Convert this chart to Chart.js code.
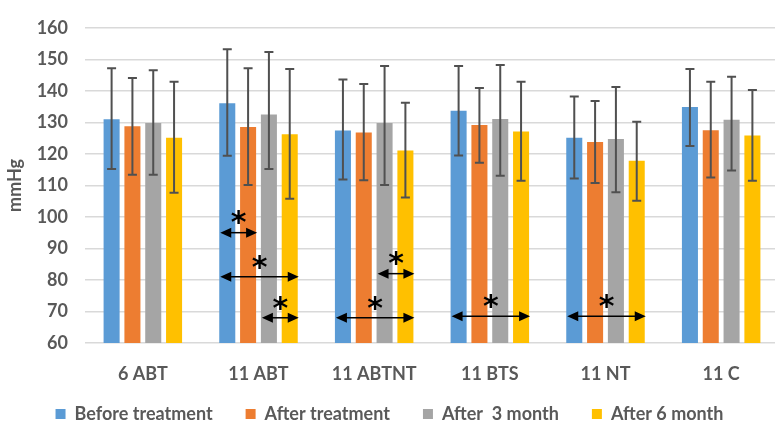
<!DOCTYPE html>
<html>
<head>
<meta charset="utf-8">
<script src="https://cdn.jsdelivr.net/npm/chart.js@4.4.1/dist/chart.umd.min.js"></script>
<style>
  html, body { margin: 0; padding: 0; background: #fff; overflow: hidden; }
  #wrap { width: 775px; height: 424px; overflow: hidden; }
  canvas { display: block; }
</style>
</head>
<body>
<div id="wrap"><canvas id="bp" width="786" height="424"></canvas></div>
<script>
// Groups and blood pressure means (mmHg)
const categories = ['6 ABT', '11 ABT', '11 ABTNT', '11 BTS', '11 NT', '11 C'];
const seriesNames = ['Before treatment', 'After treatment', 'After  3 month', 'After 6 month'];

const beforeTreatment = [131.0, 136.1, 127.4, 133.7, 125.1, 134.9];
const afterTreatment  = [128.8, 128.5, 126.8, 129.2, 123.8, 127.5];
const after3Month     = [129.8, 132.5, 129.8, 131.1, 124.7, 130.8];
const after6Month     = [125.1, 126.2, 121.1, 127.1, 117.8, 125.8];

// Error bar ends (upper / lower)
const beforeHigh = [147.2, 153.2, 143.6, 147.9, 138.2, 146.9];
const beforeLow  = [115.2, 119.4, 111.9, 119.5, 112.2, 122.5];
const afterHigh  = [144.1, 147.2, 142.2, 140.9, 136.8, 142.9];
const afterLow   = [113.4, 110.1, 111.6, 117.2, 110.8, 112.5];
const m3High     = [146.5, 152.3, 147.9, 148.2, 141.2, 144.5];
const m3Low      = [113.4, 115.2, 110.1, 113.1, 107.8, 114.7];
const m6High     = [142.9, 146.9, 136.2, 142.9, 130.2, 140.3];
const m6Low      = [107.7, 105.8, 106.2, 111.5, 105.1, 111.5];

// Significant differences: group index, from series, to series, level (mmHg)
const sigGroup = [1, 1, 1, 2, 2, 3, 4];
const sigFrom  = [0, 0, 2, 0, 2, 0, 0];
const sigTo    = [1, 3, 3, 3, 3, 3, 3];
const sigLevel = [95, 81, 68, 68, 82, 68.5, 68.5];

const yTicks = { min: 60, max: 160, step: 10 };

const colors = ['#5B9BD5', '#ED7D31', '#A5A5A5', '#FFC000'];
const means = [beforeTreatment, afterTreatment, after3Month, after6Month];
const highs = [beforeHigh, afterHigh, m3High, m6High];
const lows  = [beforeLow, afterLow, m3Low, m6Low];

const FONT = 'Lato, "Open Sans", sans-serif';
const TEXT = '#595959';

const errorBars = {
  id: 'errorBars',
  afterDatasetsDraw(chart) {
    const ctx = chart.ctx;
    const y = chart.scales.y;
    ctx.save();
    ctx.strokeStyle = '#505050';
    ctx.lineWidth = 2;
    chart.data.datasets.forEach((ds, i) => {
      const meta = chart.getDatasetMeta(i);
      meta.data.forEach((bar, j) => {
        const top = y.getPixelForValue(highs[i][j]);
        const bot = y.getPixelForValue(lows[i][j]);
        const cap = 4.5;
        ctx.beginPath();
        ctx.moveTo(bar.x, top); ctx.lineTo(bar.x, bot);
        ctx.moveTo(bar.x - cap, top); ctx.lineTo(bar.x + cap, top);
        ctx.moveTo(bar.x - cap, bot); ctx.lineTo(bar.x + cap, bot);
        ctx.stroke();
      });
    });
    ctx.restore();
  }
};

const sigArrows = {
  id: 'sigArrows',
  afterDraw(chart) {
    const ctx = chart.ctx;
    const y = chart.scales.y;
    ctx.save();
    ctx.strokeStyle = '#000';
    ctx.fillStyle = '#000';
    sigGroup.forEach((g, k) => {
      const a = chart.getDatasetMeta(sigFrom[k]).data[g];
      const b = chart.getDatasetMeta(sigTo[k]).data[g];
      const x0 = a.x - a.width / 2 + 1;
      const x1 = b.x + b.width / 2 + 1;
      const py = y.getPixelForValue(sigLevel[k]);
      const hl = 11, hh = 5;
      ctx.lineWidth = 1.5;
      ctx.beginPath();
      ctx.moveTo(x0 + hl - 1, py); ctx.lineTo(x1 - hl + 1, py);
      ctx.stroke();
      ctx.beginPath();
      ctx.moveTo(x0, py); ctx.lineTo(x0 + hl, py - hh); ctx.lineTo(x0 + hl, py + hh); ctx.closePath();
      ctx.moveTo(x1, py); ctx.lineTo(x1 - hl, py - hh); ctx.lineTo(x1 - hl, py + hh); ctx.closePath();
      ctx.fill();
      ctx.font = 'bold 30px "DejaVu Sans", sans-serif';
      ctx.textAlign = 'center';
      ctx.textBaseline = 'middle';
      ctx.fillText('*', (x0 + x1) / 2, py - 8);
    });
    ctx.restore();
  }
};

// Lift the legend row after layout so it sits close under the axis labels
const legendLift = {
  id: 'legendLift',
  afterLayout(chart) {
    const lg = chart.legend;
    if (lg) {
      lg.top -= 11;
      lg.bottom = chart.height;
      lg.height = lg.bottom - lg.top;
    }
  }
};

new Chart(document.getElementById('bp'), {
  type: 'bar',
  data: {
    labels: categories,
    datasets: means.map((m, i) => ({
      label: seriesNames[i],
      data: m,
      backgroundColor: colors[i],
      borderWidth: 0,
      categoryPercentage: 0.72,
      barPercentage: 0.77
    }))
  },
  options: {
    responsive: false,
    animation: false,
    devicePixelRatio: 1,
    layout: { padding: { left: 0, right: 7, top: 18, bottom: 0 } },
    plugins: {
      tooltip: { enabled: false },
      legend: {
        position: 'bottom',
        maxHeight: 41,
        labels: {
          boxWidth: 10, boxHeight: 10, padding: 33,
          color: TEXT,
          font: { family: FONT, size: 18, weight: 'bold' }
        }
      }
    },
    scales: {
      x: {
        grid: { display: false },
        border: { display: false },
        ticks: { color: TEXT, padding: 12, font: { family: FONT, size: 18, weight: 'bold' } },
        afterFit(scale) { scale.height = 40; }
      },
      y: {
        min: yTicks.min, max: yTicks.max,
        ticks: { stepSize: yTicks.step, color: TEXT, padding: 17, font: { family: FONT, size: 18, weight: 'bold' } },
        grid: { color: '#D9D9D9', lineWidth: 1.5, drawTicks: false },
        border: { display: false },
        title: {
          display: true, text: 'mmHg', color: TEXT,
          font: { family: FONT, size: 18, weight: 'bold' },
          padding: { top: 4, bottom: 0 }
        },
        afterFit(scale) { scale.width = 85; }
      }
    }
  },
  plugins: [errorBars, sigArrows, legendLift]
});
</script>
</body>
</html>
